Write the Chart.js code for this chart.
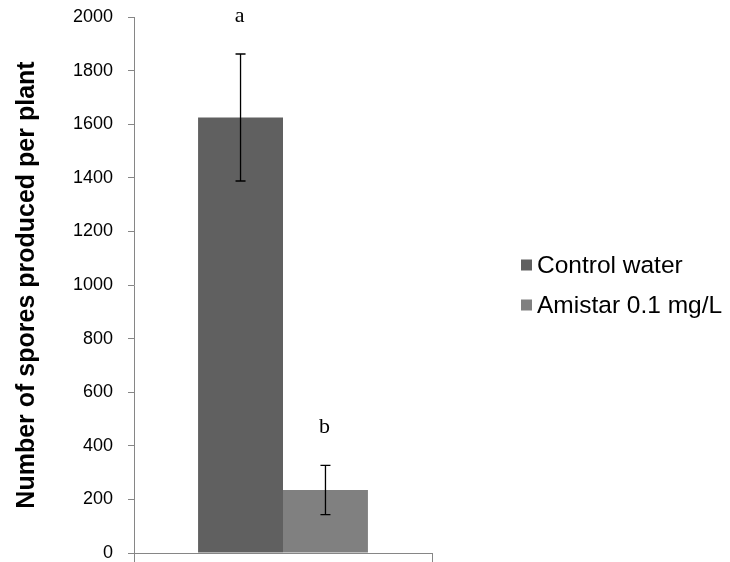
<!DOCTYPE html>
<html>
<head>
<meta charset="utf-8">
<script src="https://cdn.jsdelivr.net/npm/chart.js@4"></script>
<style>
  body { margin: 0; background: #fff; }
  #wrap { width: 730px; height: 562px; }
</style>
</head>
<body>
<div id="wrap"><canvas id="myChart"></canvas></div>
<script>
// data
var categories = [''];
var seriesNames = ['Control water', 'Amistar 0.1 mg/L'];
var seriesColors = ['#606060', '#808080'];
var controlValues = [1625];
var amistarValues = [235];
var controlErrors = [237];
var amistarErrors = [92];
var letters = ['a', 'b'];
var yTicks = [0, 200, 400, 600, 800, 1000, 1200, 1400, 1600, 1800, 2000];

var errors = [controlErrors, amistarErrors];

// error bars + significance letters
var errorBarPlugin = {
  id: 'errorBars',
  afterDatasetsDraw: function (chart) {
    var ctx = chart.ctx;
    var yScale = chart.scales.y;
    chart.data.datasets.forEach(function (ds, i) {
      var meta = chart.getDatasetMeta(i);
      meta.data.forEach(function (bar, j) {
        var v = ds.data[j];
        var e = errors[i][j];
        var yTop = yScale.getPixelForValue(v + e);
        var yBot = yScale.getPixelForValue(v - e);
        ctx.save();
        ctx.strokeStyle = '#000';
        ctx.lineWidth = 1.3;
        ctx.beginPath();
        ctx.moveTo(bar.x, yTop); ctx.lineTo(bar.x, yBot);
        ctx.moveTo(bar.x - 5, yTop); ctx.lineTo(bar.x + 5, yTop);
        ctx.moveTo(bar.x - 5, yBot); ctx.lineTo(bar.x + 5, yBot);
        ctx.stroke();
        ctx.fillStyle = '#000';
        ctx.font = '22px "Liberation Serif", "Times New Roman", serif';
        ctx.textAlign = 'center';
        ctx.textBaseline = 'alphabetic';
        ctx.fillText(letters[i], bar.x - 1, yTop - 32);
        ctx.restore();
      });
    });
  }
};

// legend drawn at the right side, like the original
var sideLegendPlugin = {
  id: 'sideLegend',
  afterDraw: function (chart) {
    var ctx = chart.ctx;
    var x0 = 521, rows = [265, 305];
    ctx.save();
    ctx.font = '24.5px "Liberation Sans", Arial, sans-serif';
    ctx.textBaseline = 'middle';
    ctx.textAlign = 'left';
    chart.data.datasets.forEach(function (ds, i) {
      ctx.fillStyle = ds.backgroundColor;
      ctx.fillRect(x0, rows[i] - 5.5, 11, 11);
      ctx.fillStyle = '#000';
      ctx.fillText(ds.label, x0 + 16, rows[i] + 1);
    });
    ctx.restore();
  }
};

var ctx = document.getElementById('myChart').getContext('2d');

var myBarChart = new Chart(ctx, {
  type: 'bar',
  data: {
    labels: categories,
    datasets: [
      {
        label: seriesNames[0],
        backgroundColor: seriesColors[0],
        data: controlValues
      }, {
        label: seriesNames[1],
        backgroundColor: seriesColors[1],
        data: amistarValues
      }
    ]
  },
  options: {
    responsive: true,
    maintainAspectRatio: false,
    animation: false,
    categoryPercentage: 0.57,
    barPercentage: 1.0,
    layout: {
      padding: { left: 8, top: 17, right: 298, bottom: 0 }
    },
    plugins: {
      legend: { display: false },
      tooltip: { enabled: false }
    },
    scales: {
      x: {
        grid: { drawOnChartArea: false, drawTicks: true, tickLength: 9, color: '#868686', offset: true },
        border: { color: '#868686' },
        ticks: { display: false },
        afterFit: function (scale) {
          scale.height = 9;
          scale.paddingLeft = 0; scale.paddingRight = 0;
        }
      },
      y: {
        min: 0,
        max: 2000,
        afterBuildTicks: function (scale) {
          scale.ticks = yTicks.map(function (v) { return { value: v }; });
        },
        grid: { drawOnChartArea: false, drawTicks: true, tickLength: 6, color: '#868686' },
        border: { color: '#868686' },
        ticks: {
          color: '#000',
          padding: 15,
          font: { family: '"Liberation Sans", Arial, sans-serif', size: 18 },
          callback: function (v) { return String(v); }
        },
        title: {
          display: true,
          text: 'Number of spores produced per plant',
          color: '#000',
          font: { family: '"Liberation Sans", Arial, sans-serif', size: 25, weight: 'bold' }
        },
        afterFit: function (scale) {
          scale.width = 126;
          scale.paddingTop = 0; scale.paddingBottom = 0;
        }
      }
    }
  },
  plugins: [errorBarPlugin, sideLegendPlugin]
});
</script>
</body>
</html>
